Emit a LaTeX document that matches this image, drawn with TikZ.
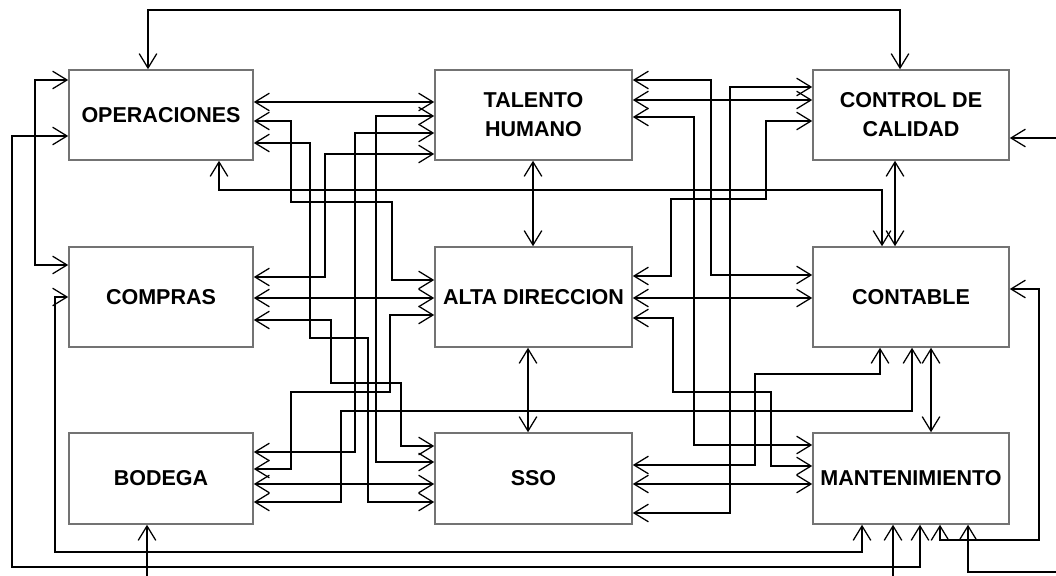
\documentclass[tikz,border=0pt]{standalone}
\usepackage{fontspec}
\setmainfont{Liberation Sans}
\usetikzlibrary{arrows.meta}

\begin{document}
\begin{tikzpicture}[
  x=0.025cm,y=-0.025cm,
  area/.style={draw=black!55,line width=1.1pt,fill=white,align=center,inner sep=1pt,
    font=\bfseries\fontsize{15.3}{20.6}\selectfont},
  conn/.style={draw,line width=0.9pt,
    {Straight Barb[length=3.6mm,width=4.4mm]}-{Straight Barb[length=3.6mm,width=4.4mm]}}]
\useasboundingbox (0,0) rectangle (1056,576);
% areas
\node[area,minimum width=4.6cm,minimum height=2.25cm] (ops) at (161,115) {OPERACIONES};
\node[area,minimum width=4.925cm,minimum height=2.25cm] (tal) at (533.5,115) {TALENTO\\HUMANO};
\node[area,minimum width=4.9cm,minimum height=2.25cm] (cc) at (911,115) {CONTROL DE\\CALIDAD};
\node[area,minimum width=4.6cm,minimum height=2.5cm] (comp) at (161,297) {COMPRAS};
\node[area,minimum width=4.925cm,minimum height=2.5cm] (alta) at (533.5,297) {ALTA DIRECCION};
\node[area,minimum width=4.9cm,minimum height=2.5cm] (cont) at (911,297) {CONTABLE};
\node[area,minimum width=4.6cm,minimum height=2.275cm] (bod) at (161,478.5) {BODEGA};
\node[area,minimum width=4.925cm,minimum height=2.275cm] (sso) at (533.5,478.5) {SSO};
\node[area,minimum width=4.9cm,minimum height=2.275cm] (mant) at (911,478.5) {MANTENIMIENTO};
% outer loops
\draw[conn] (ops.north -| 148,0) -- (148,10) -| (cc.north -| 900,0);
\draw[conn] (ops.west |- 0,80) -| (35,265) -- (comp.west |- 0,265);
\draw[conn] (ops.west |- 0,136) -| (12,567) -| (mant.south -| 920,0);
\draw[conn] (comp.west |- 0,297) -| (55,552) -| (mant.south -| 862,0);
\draw[conn] (bod.south -| 147,0) -- (147,590) -| (mant.south -| 893,0);
\draw[conn] (cc.east |- 0,138) -| (1075,572) -| (mant.south -| 968,0);
\draw[conn] (cont.east |- 0,289) -| (1039,540) -| (mant.south -| 940,0);
% operaciones
\draw[conn] (ops.east |- 0,102) -- (tal.west |- 0,102);
\draw[conn] (ops.east |- 0,121) -| (291,202) -| (392,280) -- (alta.west |- 0,280);
\draw[conn] (ops.east |- 0,143) -| (310,338) -| (368,502) -- (sso.west |- 0,502);
\draw[conn] (ops.south -| 219,0) |- (882,190) -- (cont.north -| 882,0);
% talento humano
\draw[conn] (tal.west |- 0,116) -| (376,462) -- (sso.west |- 0,462);
\draw[conn] (tal.west |- 0,133) -| (355,452) -- (bod.east |- 0,452);
\draw[conn] (tal.west |- 0,154) -| (325,277) -- (comp.east |- 0,277);
\draw[conn] (tal.east |- 0,80) -| (711,275) -- (cont.west |- 0,275);
\draw[conn] (tal.east |- 0,100) -- (cc.west |- 0,100);
\draw[conn] (tal.east |- 0,117) -| (694,445) -- (mant.west |- 0,445);
\draw[conn] (tal.south -| 533,0) -- (alta.north -| 533,0);
% control de calidad
\draw[conn] (cc.west |- 0,87) -| (730,513) -- (sso.east |- 0,513);
\draw[conn] (cc.west |- 0,121) -| (766,199) -| (671,276) -- (alta.east |- 0,276);
\draw[conn] (cc.south -| 895,0) -- (cont.north -| 895,0);
% compras, alta direccion
\draw[conn] (comp.east |- 0,298) -- (alta.west |- 0,298);
\draw[conn] (comp.east |- 0,320) -| (331,383) -| (401,446) -- (sso.west |- 0,446);
\draw[conn] (alta.west |- 0,315) -| (390,392) -| (291,469) -- (bod.east |- 0,469);
\draw[conn] (alta.east |- 0,298) -- (cont.west |- 0,298);
\draw[conn] (alta.east |- 0,318) -| (673,392) -| (771,466) -- (mant.west |- 0,466);
\draw[conn] (alta.south -| 528,0) -- (sso.north -| 528,0);
% bodega, sso, contable
\draw[conn] (bod.east |- 0,484) -- (sso.west |- 0,484);
\draw[conn] (bod.east |- 0,502) -| (341,411) -| (cont.south -| 912,0);
\draw[conn] (sso.east |- 0,465) -| (755,374) -| (cont.south -| 880,0);
\draw[conn] (sso.east |- 0,484) -- (mant.west |- 0,484);
\draw[conn] (cont.south -| 931,0) -- (mant.north -| 931,0);
\end{tikzpicture}
\end{document}
